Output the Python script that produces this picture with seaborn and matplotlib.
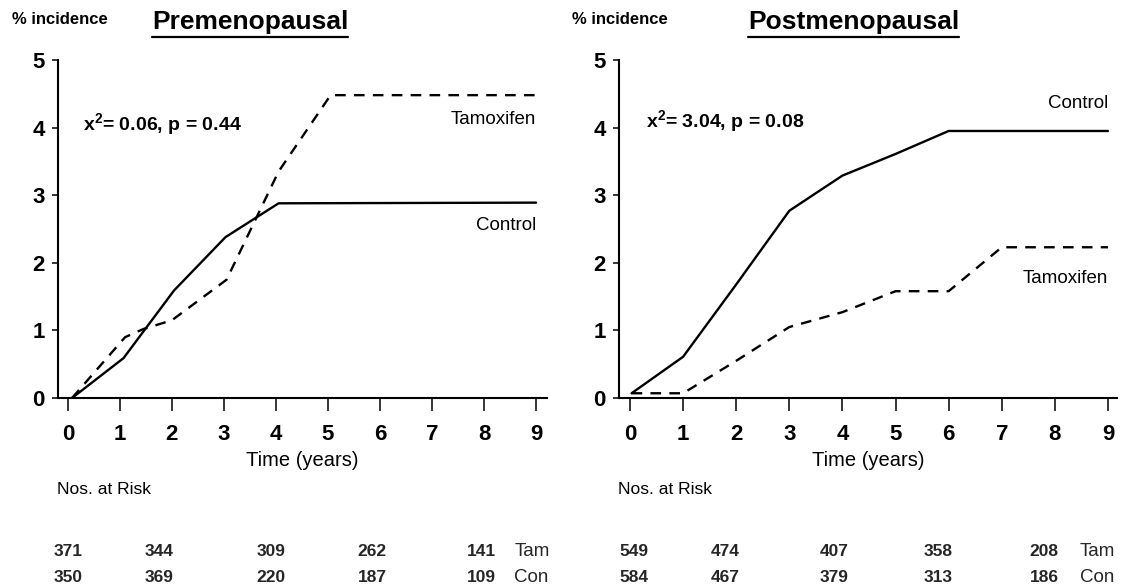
import matplotlib
matplotlib.use("Agg")
import matplotlib.pyplot as plt
import matplotlib.transforms as mtransforms
from matplotlib.lines import Line2D
import numpy as np
import pandas as pd
import seaborn as sns

# ---------------- data ----------------
years_ticks = list(range(10))

pre_con_x = [0.08, 1.07, 2.04, 3.03, 4.05, 9.0]
pre_con_y = [0.0, 0.59, 1.59, 2.38, 2.88, 2.89]
pre_tam_x = [0.08, 1.1, 1.45, 2.0, 3.05, 4.05, 5.05, 9.0]
pre_tam_y = [0.0, 0.9, 1.02, 1.15, 1.75, 3.35, 4.48, 4.48]

post_con_x = [0.03, 1.0, 2.0, 3.0, 4.0, 5.0, 6.0, 9.0]
post_con_y = [0.07, 0.61, 1.68, 2.77, 3.29, 3.61, 3.95, 3.95]
post_tam_x = [0.03, 1.0, 2.0, 3.0, 4.0, 5.0, 6.0, 7.0, 9.0]
post_tam_y = [0.07, 0.07, 0.55, 1.05, 1.27, 1.58, 1.58, 2.23, 2.23]

pre_risk_tam = [371, 344, 309, 262, 141]
pre_risk_con = [350, 369, 220, 187, 109]
post_risk_tam = [549, 474, 407, 358, 208]
post_risk_con = [584, 467, 379, 313, 186]

titles = ["Premenopausal", "Postmenopausal"]
stats_txt = ["0.06, p = 0.44", "3.04, p = 0.08"]

# ---------------- style ----------------
sns.set_theme(style="ticks")
FONT = ["Liberation Sans", "DejaVu Sans"]
plt.rcParams["font.family"] = FONT
plt.rcParams["mathtext.fontset"] = "custom"
plt.rcParams["mathtext.rm"] = "Liberation Sans"
plt.rcParams["mathtext.bf"] = "Liberation Sans:bold"

W, H = 1125, 585
fig = plt.figure(figsize=(W / 100, H / 100), dpi=100)
fig.patch.set_facecolor("white")

def fx(px):
    return px / W

def fy(py):
    return 1 - py / H

ax_specs = [
    dict(rect=[fx(58), fy(398), fx(547 - 58), (398 - 60) / H], xlim=(-0.19, 9.21)),
    dict(rect=[fx(619), fy(398), fx(1117 - 619), (398 - 60) / H], xlim=(-0.207, 9.17)),
]

panels = [
    dict(con=(pre_con_x, pre_con_y), tam=(pre_tam_x, pre_tam_y),
         risk_tam=pre_risk_tam, risk_con=pre_risk_con,
         risk_pos=[0.0, 1.75, 3.9, 5.85, 7.95], lab_pos=8.58,
         labels=[("Tamoxifen", 4.12), ("Control", 2.55)],
         stat_pos=(0.3, 4.05), inc_x=12, title_x=152, time_x=302, nos_x=57),
    dict(con=(post_con_x, post_con_y), tam=(post_tam_x, post_tam_y),
         risk_tam=post_risk_tam, risk_con=post_risk_con,
         risk_pos=[0.08, 1.8, 3.85, 5.8, 7.8], lab_pos=8.47,
         labels=[("Control", 4.35), ("Tamoxifen", 1.77)],
         stat_pos=(0.3, 4.08), inc_x=572, title_x=748, time_x=868, nos_x=618),
]

title_artists = []
for i, (spec, p) in enumerate(zip(ax_specs, panels)):
    ax = fig.add_axes(spec["rect"])
    df_con = pd.DataFrame({"year": p["con"][0], "inc": p["con"][1]})
    df_tam = pd.DataFrame({"year": p["tam"][0], "inc": p["tam"][1]})
    sns.lineplot(data=df_con, x="year", y="inc", ax=ax, color="black",
                 lw=1.7, estimator=None, sort=False)
    sns.lineplot(data=df_tam, x="year", y="inc", ax=ax, color="black",
                 lw=1.7, linestyle=(0, (4.5, 3.5)), estimator=None, sort=False)
    ax.set_xlim(*spec["xlim"])
    ax.set_ylim(0, 5)
    ax.set_xticks(years_ticks)
    ax.set_yticks([0, 1, 2, 3, 4, 5])
    ax.set_xlabel("")
    ax.set_ylabel("")
    sns.despine(ax=ax)
    for s in ["left", "bottom"]:
        ax.spines[s].set_linewidth(1.5)
        ax.spines[s].set_color("black")
    ax.tick_params(axis="x", direction="out", length=9.5, width=1.1, pad=9,
                   labelsize=16, colors="black")
    ax.tick_params(axis="y", direction="out", length=4.5, width=1.1, pad=5,
                   labelsize=16, colors="black")
    for lab in ax.get_xticklabels() + ax.get_yticklabels():
        lab.set_fontweight("bold")
    ax.set_facecolor("white")
    ax.grid(False)

    ax.text(p["stat_pos"][0], p["stat_pos"][1],
            r"x$^{\mathbf{2}}$= " + stats_txt[i],
            fontsize=14, fontweight="bold", ha="left", va="center", color="black")
    for txt, yv in p["labels"]:
        ax.text(9.0, yv, txt, fontsize=13.5, ha="right", va="center", color="black")

    fig.text(fx(p["inc_x"]), fy(20), "% incidence", fontsize=12, fontweight="bold",
             ha="left", va="center", color="black")
    t = fig.text(fx(p["title_x"]), fy(22), titles[i], fontsize=19, fontweight="bold",
                 ha="left", va="center", color="black")
    title_artists.append(t)

    fig.text(fx(p["time_x"]), fy(461), "Time (years)", fontsize=14.5,
             ha="center", va="center", color="black")
    fig.text(fx(p["nos_x"]), fy(490), "Nos. at Risk", fontsize=12.5,
             ha="left", va="center", color="black")

    trans = mtransforms.blended_transform_factory(ax.transData, fig.transFigure)
    for xpos, vt, vc in zip(p["risk_pos"], p["risk_tam"], p["risk_con"]):
        ax.text(xpos, fy(552), str(vt), transform=trans, fontsize=12.5,
                fontweight="bold", ha="center", va="center", clip_on=False)
        ax.text(xpos, fy(577), str(vc), transform=trans, fontsize=12.5,
                fontweight="bold", ha="center", va="center", clip_on=False)
    ax.text(p["lab_pos"], fy(552), "Tam", transform=trans, fontsize=13.5,
            ha="left", va="center", clip_on=False)
    ax.text(p["lab_pos"], fy(577), "Con", transform=trans, fontsize=13.5,
            ha="left", va="center", clip_on=False)

fig.canvas.draw()
renderer = fig.canvas.get_renderer()
for t in title_artists:
    bb = t.get_window_extent(renderer).transformed(fig.transFigure.inverted())
    fig.add_artist(Line2D([bb.x0, bb.x1], [fy(37), fy(37)],
                          transform=fig.transFigure, color="black", lw=1.6))

fig.savefig("out.png", dpi=100, facecolor="white")
